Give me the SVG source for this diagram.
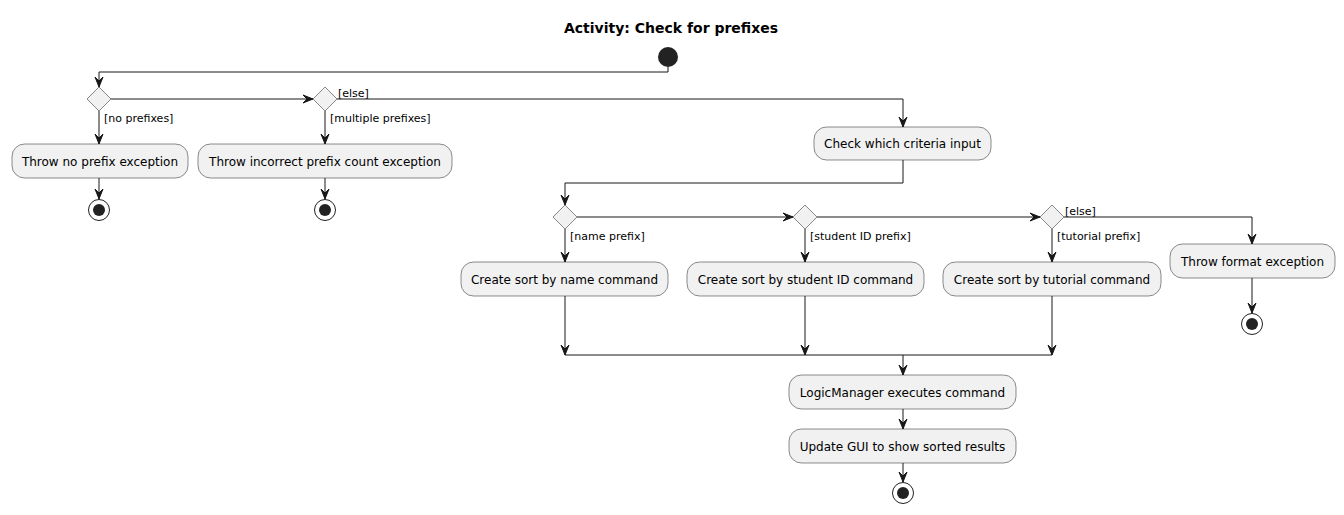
<svg xmlns="http://www.w3.org/2000/svg" width="1344" height="515" viewBox="0 0 1344 515">
<style>
.bg{fill:#FFFFFF}
.box{fill:#F1F1F1;stroke:#181818;stroke-width:0.5}
.dia{fill:#F1F1F1;stroke:#181818;stroke-width:0.5}
.t{font-family:"DejaVu Sans",sans-serif;font-size:12px;fill:#000000;text-anchor:middle}
.lbl{font-family:"DejaVu Sans",sans-serif;font-size:11px;fill:#000000}
.title{font-family:"DejaVu Sans",sans-serif;font-size:14px;font-weight:bold;fill:#000000;text-anchor:middle}
.ln{fill:none;stroke:#181818;stroke-width:1}
.ah{fill:#181818;stroke:#181818;stroke-width:1}
.start{fill:#222222}
.endo{fill:none;stroke:#222222;stroke-width:1}
.endi{fill:#222222}
</style>
<defs>
<polygon id="ad" points="-4,-10 0,0 4,-10 0,-6" class="ah"/>
<polygon id="ar" points="-10,-4 0,0 -10,4 -6,0" class="ah"/>
</defs>
<rect class="bg" x="0" y="0" width="1344" height="515"/>
<text class="title" x="671" y="33">Activity: Check for prefixes</text>

<g id="connectors">
<path class="ln" d="M668,67 V72 H99 V87"/>
<use href="#ad" x="99" y="87"/>
<path class="ln" d="M111,99 H313"/>
<use href="#ar" x="313" y="99"/>
<path class="ln" d="M99,111 V144"/>
<use href="#ad" x="99" y="144"/>
<path class="ln" d="M325,111 V144"/>
<use href="#ad" x="325" y="144"/>
<path class="ln" d="M99,178 V199"/>
<use href="#ad" x="99" y="199"/>
<path class="ln" d="M325,178 V199"/>
<use href="#ad" x="325" y="199"/>
<path class="ln" d="M337,99 H903 V127"/>
<use href="#ad" x="903" y="127"/>
<path class="ln" d="M903,160 V183 H565 V205"/>
<use href="#ad" x="565" y="205"/>
<path class="ln" d="M577,217 H793"/>
<use href="#ar" x="793" y="217"/>
<path class="ln" d="M817,217 H1040"/>
<use href="#ar" x="1040" y="217"/>
<path class="ln" d="M1064,217 H1252 V244"/>
<use href="#ad" x="1252" y="244"/>
<path class="ln" d="M1252,278 V313"/>
<use href="#ad" x="1252" y="313"/>
<path class="ln" d="M565,229 V262"/>
<use href="#ad" x="565" y="262"/>
<path class="ln" d="M805,229 V262"/>
<use href="#ad" x="805" y="262"/>
<path class="ln" d="M1052,229 V262"/>
<use href="#ad" x="1052" y="262"/>
<path class="ln" d="M565,296 V355"/>
<use href="#ad" x="565" y="355"/>
<path class="ln" d="M805,296 V355"/>
<use href="#ad" x="805" y="355"/>
<path class="ln" d="M1052,296 V355"/>
<use href="#ad" x="1052" y="355"/>
<path class="ln" d="M565,355 H1052"/>
<path class="ln" d="M903,355 V375"/>
<use href="#ad" x="903" y="375"/>
<path class="ln" d="M903,409 V429"/>
<use href="#ad" x="903" y="429"/>
<path class="ln" d="M903,463 V482"/>
<use href="#ad" x="903" y="482"/>
<text class="lbl" x="104" y="122">[no prefixes]</text>
<text class="lbl" x="330" y="122">[multiple prefixes]</text>
<text class="lbl" x="338" y="97">[else]</text>
<text class="lbl" x="570" y="240">[name prefix]</text>
<text class="lbl" x="810" y="240">[student ID prefix]</text>
<text class="lbl" x="1057" y="240">[tutorial prefix]</text>
<text class="lbl" x="1065" y="215">[else]</text>
</g>

<g id="start"><circle class="start" cx="668" cy="57" r="10"/></g>

<g id="d1"><polygon class="dia" points="99,87 111,99 99,111 87,99"/></g>
<g id="d2"><polygon class="dia" points="325,87 337,99 325,111 313,99"/></g>

<g id="noprefix"><rect class="box" x="12" y="144" width="176" height="34" rx="12.5"/><text class="t" x="100" y="165.5">Throw no prefix exception</text></g>
<g id="end1"><circle class="endo" cx="99" cy="210" r="10.5"/><circle class="endi" cx="99" cy="210" r="6"/></g>

<g id="incorrect"><rect class="box" x="198" y="144" width="254" height="34" rx="12.5"/><text class="t" x="325" y="165.5">Throw incorrect prefix count exception</text></g>
<g id="end2"><circle class="endo" cx="325" cy="210" r="10.5"/><circle class="endi" cx="325" cy="210" r="6"/></g>

<g id="check"><rect class="box" x="814" y="127" width="177" height="33" rx="12.5"/><text class="t" x="902.5" y="148">Check which criteria input</text></g>

<g id="d3"><polygon class="dia" points="565,205 577,217 565,229 553,217"/></g>
<g id="d4"><polygon class="dia" points="805,205 817,217 805,229 793,217"/></g>
<g id="d5"><polygon class="dia" points="1052,205 1064,217 1052,229 1040,217"/></g>

<g id="byname"><rect class="box" x="461" y="262" width="207" height="34" rx="12.5"/><text class="t" x="564.5" y="283.5">Create sort by name command</text></g>
<g id="byid"><rect class="box" x="687" y="262" width="237" height="34" rx="12.5"/><text class="t" x="805.5" y="283.5">Create sort by student ID command</text></g>
<g id="bytut"><rect class="box" x="943" y="262" width="218" height="34" rx="12.5"/><text class="t" x="1052" y="283.5">Create sort by tutorial command</text></g>

<g id="format"><rect class="box" x="1170" y="244" width="165" height="34" rx="12.5"/><text class="t" x="1252.5" y="265.5">Throw format exception</text></g>
<g id="end3"><circle class="endo" cx="1252" cy="324" r="10.5"/><circle class="endi" cx="1252" cy="324" r="6"/></g>

<g id="logic"><rect class="box" x="789" y="375" width="227" height="34" rx="12.5"/><text class="t" x="902.5" y="396.5">LogicManager executes command</text></g>
<g id="gui"><rect class="box" x="789" y="429" width="227" height="34" rx="12.5"/><text class="t" x="902.5" y="450.5">Update GUI to show sorted results</text></g>
<g id="end4"><circle class="endo" cx="903" cy="493" r="10.5"/><circle class="endi" cx="903" cy="493" r="6"/></g>
</svg>
